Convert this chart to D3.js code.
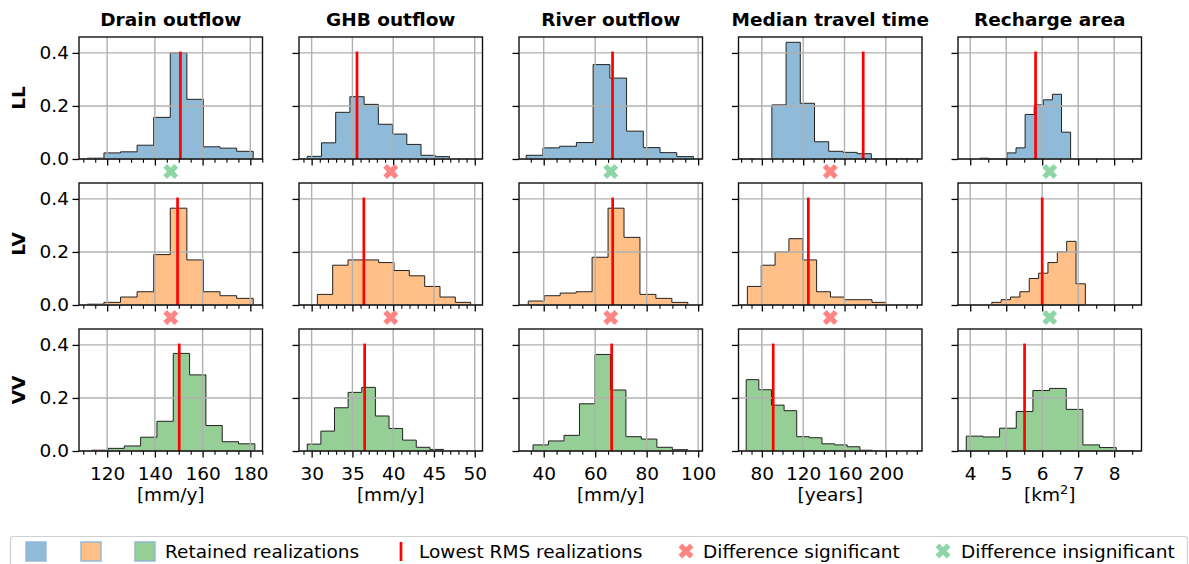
<!DOCTYPE html>
<html>
<head>
<meta charset="utf-8">
<script src="https://cdn.jsdelivr.net/npm/d3@7"></script>
<style>
  body { margin: 0; background: #fff; }
  text { font-family: 'DejaVu Sans', sans-serif; }
</style>
</head>
<body>
<div id="chart"></div>
<script>
const columns = ['Drain outflow', 'GHB outflow', 'River outflow', 'Median travel time', 'Recharge area']
const rows = ['LL', 'LV', 'VV']
const units = ['[mm/y]', '[mm/y]', '[mm/y]', '[years]', 'km2']
const xDomains = [[108.2, 185.1], [28.45, 50.95], [30.4, 101.7], [57.4, 235], [3.66, 8.76]]
const majorTicks = [[120, 140, 160, 180], [30, 35, 40, 45, 50], [40, 60, 80, 100], [80, 120, 160, 200], [4, 5, 6, 7, 8]]
const minorStep = [5, 1, 5, 10, 0.5]
const yTicks = [0, 0.2, 0.4]

// histogram range [start, end] and bin probabilities (10 bins each)
const rangeLL = [[111.7, 181.2], [29.46, 46.9], [33.2, 98.2], [89.7, 227.2], [4.26, 6.79]]
const histLL = [
    [0.003, 0.023, 0.027, 0.052, 0.157, 0.40, 0.225, 0.046, 0.041, 0.029],
    [0.010, 0.061, 0.176, 0.235, 0.206, 0.131, 0.094, 0.055, 0.014, 0.009],
    [0.014, 0.042, 0.048, 0.062, 0.356, 0.305, 0.105, 0.043, 0.024, 0.009],
    [0.204, 0.44, 0.21, 0.065, 0.029, 0.025, 0.020, 0.0, 0.002, 0.002],
    [0.003, 0.0, 0.0, 0.023, 0.042, 0.168, 0.204, 0.223, 0.244, 0.101],
]
const rangeLV = [[111.7, 181.2], [30.7, 49.5], [34.0, 96.0], [66.0, 200.0], [4.6, 7.2]]
const histLV = [
    [0.003, 0.01, 0.03, 0.05, 0.19, 0.365, 0.17, 0.05, 0.035, 0.025],
    [0.04, 0.15, 0.17, 0.17, 0.16, 0.13, 0.11, 0.07, 0.03, 0.01],
    [0.015, 0.035, 0.045, 0.05, 0.18, 0.365, 0.255, 0.04, 0.025, 0.01],
    [0.07, 0.15, 0.20, 0.25, 0.17, 0.05, 0.03, 0.02, 0.02, 0.01],
    [0.01, 0.02, 0.03, 0.05, 0.10, 0.12, 0.16, 0.20, 0.24, 0.08],
]
const rangeVV = [[113.5, 181.9], [29.46, 46.17], [35.85, 96.0], [64.85, 187.1], [3.89, 8.52]]
const histVV = [
    [0.003, 0.010, 0.019, 0.052, 0.112, 0.368, 0.287, 0.096, 0.035, 0.027],
    [0.026, 0.075, 0.163, 0.221, 0.240, 0.132, 0.085, 0.041, 0.014, 0.006],
    [0.023, 0.038, 0.059, 0.178, 0.364, 0.230, 0.054, 0.045, 0.014, 0.005],
    [0.269, 0.231, 0.173, 0.152, 0.054, 0.050, 0.027, 0.023, 0.016, 0.003],
    [0.056, 0.053, 0.086, 0.149, 0.228, 0.236, 0.157, 0.023, 0.013, 0.002],
]
// lowest RMS realization per row / column
const lowestRMS = [
    [150.7, 35.56, 66.75, 178.1, 5.816],
    [149.5, 36.4, 66.8, 125.0, 6.0],
    [150.2, 36.5, 66.4, 91.0, 5.51],
]
// significance of difference between rows (LL-LV, LV-VV)
const significant = [
    [false, true, false, true, false],
    [true, true, true, true, false],
]

const ranges = [rangeLL, rangeLV, rangeVV]
const hists = [histLL, histLV, histVV]
const fills = ['#8fbbd9', '#ffbf86', '#95cf95']
const sigColor = '#ff8585'
const insigColor = '#8fd6a6'

const width = 1189, height = 564
const colLeft = [79, 299, 519, 738.5, 958]
const rowTop = [37, 183, 329]
const axW = 183.5, axH = 122
const fs = '18.5px'

const svg = d3.select('#chart').append('svg').attr('width', width).attr('height', height)

const y = d3.scaleLinear().domain([0, 0.46]).range([axH, 0])
const xMarker = d3.symbol().type(d3.symbolCross).size(140)

columns.forEach(function (title, c) {
    const x = d3.scaleLinear().domain(xDomains[c]).range([0, axW])
    const minors = d3.range(Math.ceil(xDomains[c][0] / minorStep[c]) * minorStep[c], xDomains[c][1], minorStep[c])
        .filter(v => !majorTicks[c].some(t => Math.abs(t - v) < 1e-9))

    svg.append('text')
        .attr('x', colLeft[c] + axW / 2)
        .attr('y', 26)
        .attr('text-anchor', 'middle')
        .attr('font-size', fs)
        .attr('font-weight', 'bold')
        .text(title)

    rows.forEach(function (rowName, r) {
        const g = svg.append('g').attr('transform', 'translate(' + colLeft[c] + ',' + rowTop[r] + ')')

        // histogram (stepfilled)
        const [start, end] = ranges[r][c]
        const h = hists[r][c]
        const bw = (end - start) / h.length
        const pts = [[start, 0]]
        h.forEach(function (v, i) {
            pts.push([start + i * bw, v])
            pts.push([start + (i + 1) * bw, v])
        })
        pts.push([end, 0])
        g.append('path')
            .attr('d', d3.line().x(d => x(d[0])).y(d => y(d[1]))(pts) + 'Z')
            .attr('fill', fills[r])
            .attr('stroke', '#222')
            .attr('stroke-width', 1)

        // grid
        g.selectAll('.vg').data(majorTicks[c]).enter().append('line')
            .attr('x1', d => x(d)).attr('x2', d => x(d))
            .attr('y1', 0).attr('y2', axH)
            .attr('stroke', '#b0b0b0').attr('stroke-width', 1.4)
        g.selectAll('.hg').data(yTicks).enter().append('line')
            .attr('x1', 0).attr('x2', axW)
            .attr('y1', d => y(d)).attr('y2', d => y(d))
            .attr('stroke', '#b0b0b0').attr('stroke-width', 1.4)

        // lowest RMS line
        const v = lowestRMS[r][c]
        g.append('line')
            .attr('x1', x(v)).attr('x2', x(v))
            .attr('y1', y(0)).attr('y2', y(0.405))
            .attr('stroke', '#ff0000').attr('stroke-width', 2.7)

        // x axis
        const xAxis = d3.axisBottom(x).tickValues(majorTicks[c]).tickSizeInner(6.5).tickSizeOuter(0).tickPadding(9)
            .tickFormat(r === 2 ? d3.format('d') : '')
        const xa = g.append('g').attr('transform', 'translate(0,' + axH + ')').call(xAxis)
        xa.select('.domain').remove()
        xa.selectAll('line').attr('stroke-width', 1.3)
        xa.selectAll('text').attr('font-size', fs).attr('font-family', 'DejaVu Sans').attr('fill', '#000')
        const xm = g.append('g').attr('transform', 'translate(0,' + axH + ')')
            .call(d3.axisBottom(x).tickValues(minors).tickSizeInner(3.8).tickSizeOuter(0).tickFormat(''))
        xm.select('.domain').remove()
        xm.selectAll('line').attr('stroke-width', 1.1)

        // y axis
        const yAxis = d3.axisLeft(y).tickValues(yTicks).tickSizeInner(6.5).tickSizeOuter(0).tickPadding(3.5)
            .tickFormat(c === 0 ? d3.format('.1f') : '')
        const ya = g.append('g').call(yAxis)
        ya.select('.domain').remove()
        ya.selectAll('line').attr('stroke-width', 1.3)
        ya.selectAll('text').attr('font-size', fs).attr('font-family', 'DejaVu Sans').attr('fill', '#000')

        // frame
        g.append('rect')
            .attr('width', axW).attr('height', axH)
            .attr('fill', 'none').attr('stroke', '#111').attr('stroke-width', 1.4)

        if (c === 0) {
            svg.append('text')
                .attr('transform', 'translate(25,' + (rowTop[r] + axH / 2) + ') rotate(-90)')
                .attr('text-anchor', 'middle')
                .attr('font-size', fs)
                .attr('font-weight', 'bold')
                .text(rowName)
        }
        if (r === 2) {
            const lbl = svg.append('text')
                .attr('x', colLeft[c] + axW / 2)
                .attr('y', 501)
                .attr('text-anchor', 'middle')
                .attr('font-size', fs)
            if (units[c] === 'km2') {
                lbl.append('tspan').text('[km')
                lbl.append('tspan').attr('dy', -7).attr('font-size', '13px').text('2')
                lbl.append('tspan').attr('dy', 7).text(']')
            } else {
                lbl.text(units[c])
            }
        }
    })

    // significance markers between rows
    significant.forEach(function (s, k) {
        const my = (rowTop[k] + axH + rowTop[k + 1]) / 2 + 0.5
        svg.append('path')
            .attr('d', xMarker())
            .attr('transform', 'translate(' + (colLeft[c] + axW / 2) + ',' + my + ') rotate(45)')
            .attr('fill', s[c] ? sigColor : insigColor)
    })
})

// legend
const lg = svg.append('g')
lg.append('rect')
    .attr('x', 10.5).attr('y', 536.5).attr('width', 1177).attr('height', 40).attr('rx', 3)
    .attr('fill', '#fff').attr('stroke', '#d0d0d0').attr('stroke-width', 1.2)
const patchX = [26, 81, 135]
fills.forEach(function (f, i) {
    lg.append('rect')
        .attr('x', patchX[i]).attr('y', 542).attr('width', 20).attr('height', 19)
        .attr('fill', f).attr('stroke', '#8fb5d6').attr('stroke-width', 1.4)
})
const legendText = [
    { x: 165, t: 'Retained realizations' },
    { x: 419, t: 'Lowest RMS realizations' },
    { x: 703, t: 'Difference significant' },
    { x: 961, t: 'Difference insignificant' },
]
legendText.forEach(function (d) {
    lg.append('text').attr('x', d.x).attr('y', 558).attr('font-size', fs).text(d.t)
})
lg.append('line').attr('x1', 401).attr('x2', 401).attr('y1', 542).attr('y2', 561)
    .attr('stroke', '#ff0000').attr('stroke-width', 2.7)
lg.append('path').attr('d', xMarker()).attr('transform', 'translate(686,551) rotate(45)').attr('fill', sigColor)
lg.append('path').attr('d', xMarker()).attr('transform', 'translate(943,551) rotate(45)').attr('fill', insigColor)
</script>
</body>
</html>
